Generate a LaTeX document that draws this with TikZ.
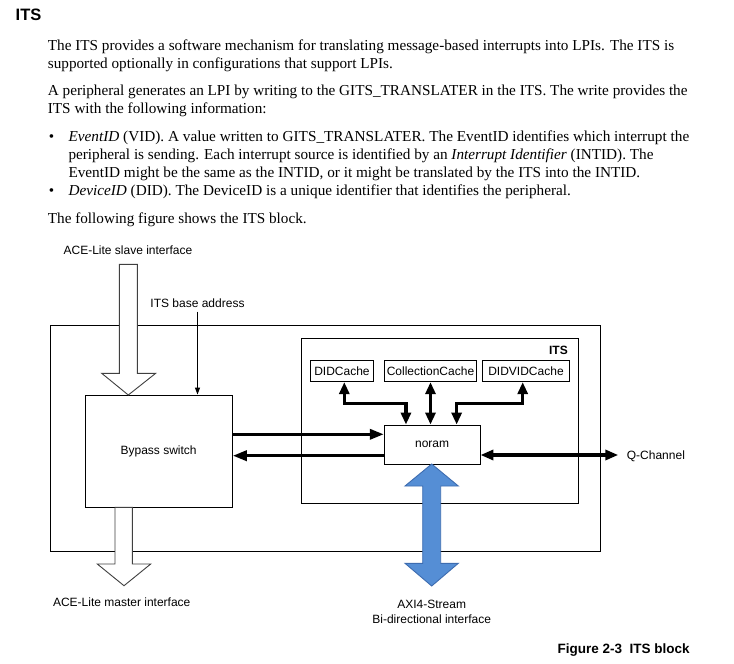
\documentclass[tikz,border=0pt]{standalone}
\usepackage{fontspec}
\usepackage{graphicx}
\setmainfont{Liberation Serif}
\newfontfamily\arialf{Liberation Sans}
\usetikzlibrary{arrows.meta}
\definecolor{axiblue}{RGB}{85,142,213}
\definecolor{axiedge}{RGB}{61,108,176}
\newcommand\fitw[2]{\resizebox{#1pt}{\height}{#2}}
\begin{document}
\begin{tikzpicture}[x=1pt,y=-1pt,
  body/.style={anchor=base west, inner sep=0pt, font=\fontsize{15.2}{18.3}\selectfont},
  diag/.style={inner sep=0pt, font=\arialf\fontsize{12}{14}\selectfont},
  box/.style={diag, draw, line width=0.9pt},
  fatcache/.style={line width=3.3pt, {Triangle[length=12pt,width=10pt]}-{Triangle[length=12pt,width=10pt]}},
  fatone/.style={line width=3.3pt, -{Triangle[length=14pt,width=10pt]}},
  thinarrow/.style={line width=0.9pt, -{Triangle[length=7pt,width=5pt]}},
  hollow/.style={fill=white, draw=black!75, line width=0.9pt, line join=miter},
  blueshape/.style={fill=axiblue, draw=axiedge, line width=0.9pt}]
\useasboundingbox[fill=white] (0,0) rectangle (734,664);

% ---------- text ----------
\node[anchor=base west, inner sep=0pt, font=\arialf\bfseries\fontsize{16.5}{18}\selectfont] (head) at (15.5,20.7) {ITS};
\node[body] (l1) at (47.7,50) {\fitw{626.3}{The ITS provides a software mechanism for translating message-based interrupts into LPIs. The ITS is}};
\node[body] (l2) at (47.7,68.3) {supported optionally in configurations that support LPIs.};
\node[body] (l3) at (47.7,95) {\fitw{639.6}{A peripheral generates an LPI by writing to the GITS\_TRANSLATER in the ITS. The write provides the}};
\node[body] (l4) at (47.7,113.3) {ITS with the following information:};
\node[body] (bu1) at (48.6,141.7) {\textbullet};
\node[body] (l5) at (68.3,141.7) {\fitw{620.7}{\textit{EventID} (VID). A value written to GITS\_TRANSLATER. The EventID identifies which interrupt the}};
\node[body] (l6) at (68.3,159.3) {\fitw{585}{peripheral is sending. Each interrupt source is identified by an \textit{Interrupt Identifier} (INTID). The}};
\node[body] (l7) at (68.3,177.7) {\fitw{571.7}{EventID might be the same as the INTID, or it might be translated by the ITS into the INTID.}};
\node[body] (bu2) at (48.6,195.7) {\textbullet};
\node[body] (l8) at (68.3,195.7) {\fitw{502.4}{\textit{DeviceID} (DID). The DeviceID is a unique identifier that identifies the peripheral.}};
\node[body] (l9) at (47.7,223.3) {The following figure shows the ITS block.};

% ---------- boxes ----------
\node[box, minimum width=549.8pt, minimum height=226.2pt] (outer) at (325.6,438.1) {};
\node[box, minimum width=276.6pt, minimum height=164.7pt] (its) at (440,420.65) {};
\node[box, minimum width=147.3pt, minimum height=112.3pt] (bypass) at (158.65,451.15) {Bypass switch};
\node[box, minimum width=95.7pt, minimum height=39pt] (noram) at (432.15,444.5) {noram};
\node[box, minimum width=62.6pt, minimum height=21pt] (didc) at (342,371.2) {DIDCache};
\node[box, minimum width=92.4pt, minimum height=21pt] (collc) at (430.5,371.2) {CollectionCache};
\node[box, minimum width=86.6pt, minimum height=21pt] (dvc) at (526,371.2) {DIDVIDCache};
\node[diag, anchor=base east, font=\arialf\bfseries\fontsize{12}{14}\selectfont] (itsl) at (568,354.3) {ITS};

% ---------- labels ----------
\node[diag, anchor=base] (slave) at (128,254) {ACE-Lite slave interface};
\node[diag, anchor=base] (base) at (197.5,307) {ITS base address};
\node[diag, anchor=base] (master) at (121.7,606.6) {ACE-Lite master interface};
\node[diag, anchor=base west] (qc) at (626.7,459.3) {Q-Channel};
\node[diag, anchor=base] (axi1) at (431.7,608.3) {AXI4-Stream};
\node[diag, anchor=base] (axi2) at (431.7,623) {Bi-directional interface};
\node[anchor=base west, inner sep=0pt, font=\arialf\bfseries\fontsize{13.5}{15}\selectfont] (cap) at (557.3,653.8) {Figure 2-3\ \ ITS block};

% ---------- connectors ----------
\coordinate (hy) at (0,403.3);
\coordinate (dl) at ([xshift=2.3pt]didc.south);
\coordinate (nl) at ([xshift=-26.2pt]noram.north);
\coordinate (dr) at ([xshift=-3.3pt]dvc.south);
\coordinate (nr) at ([xshift=24.5pt]noram.north);
\draw[fatcache] (dl) -- (dl |- hy) -| (nl);
\draw[fatcache] (collc.south) -- (collc.south |- noram.north);
\draw[fatcache] (dr) -- (dr |- hy) -| (nr);

\coordinate (r1) at (0,434.3);
\coordinate (r2) at (0,455.7);
\coordinate (r3) at (0,455);
\coordinate (qtip) at (618.3,455);
\draw[fatone] (bypass.east |- r1) -- (noram.west |- r1);
\draw[fatone] (noram.west |- r2) -- (bypass.east |- r2);
\draw[fatcache, {Triangle[length=13pt,width=10pt]}-{Triangle[length=13pt,width=10pt]}] (noram.east |- r3) -- (qtip);

\coordinate (bt) at ([yshift=-4.4pt]base.south);
\draw[thinarrow] (bt) -- (bt |- bypass.north);

% hollow interface arrows
\draw[hollow] (119.3,264.3) -- (137.3,264.3) -- (137.3,373.3) -- (155.7,373.3) -- (128.3,395) -- (101.7,373.3) -- (119.3,373.3) -- cycle;
\draw[hollow] (115,507.3) -- (132.3,507.3) -- (132.3,564) -- (150.7,564) -- (124,585.7) -- (97.3,564) -- (115,564) -- cycle;

% AXI4-Stream bidirectional arrow
\draw[blueshape] (431.7,464) -- (458.3,486) -- (440.7,486) -- (440.7,563.3) -- (458.3,563.3) -- (431.7,586) -- (405,563.3) -- (422.7,563.3) -- (422.7,486) -- (405,486) -- cycle;
\end{tikzpicture}
\end{document}
